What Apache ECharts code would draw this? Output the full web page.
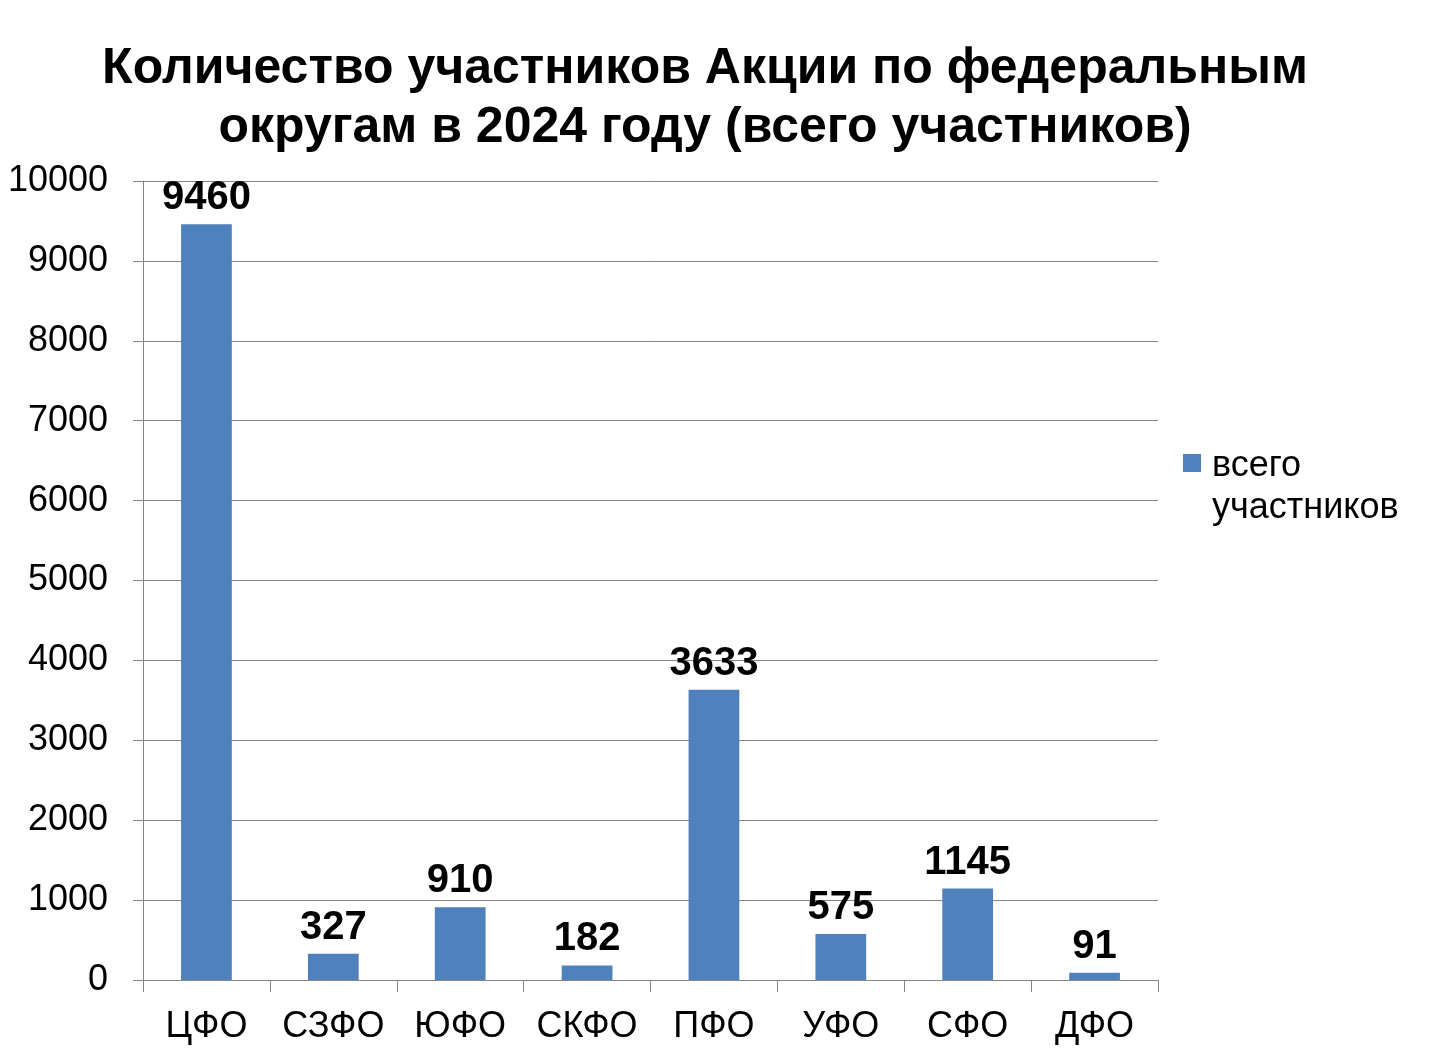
<!DOCTYPE html>
<html>
<head>
<meta charset="utf-8">
<script src="https://cdn.jsdelivr.net/npm/echarts@6/dist/echarts.min.js"></script>
<style>
html,body{margin:0;padding:0;background:#fff;}
#c{width:1430px;height:1051px;}
</style>
</head>
<body>
<div id="c"></div>
<script>
const titleText = 'Количество участников Акции по федеральным\nокругам в 2024 году (всего участников)';
const categories = ['ЦФО', 'СЗФО', 'ЮФО', 'СКФО', 'ПФО', 'УФО', 'СФО', 'ДФО'];
const seriesName = 'всего участников';
const values = [9460, 327, 910, 182, 3633, 575, 1145, 91];
const legendLines = ['всего', 'участников'];

const FONT = '"Liberation Sans", Arial, sans-serif';
const BAR = '#4F81BD';
const GRID = '#868686';

const chart = echarts.init(document.getElementById('c'));
chart.setOption({
  backgroundColor: '#ffffff',
  animation: false,
  title: {
    text: titleText,
    left: 700,
    top: 35,
    textAlign: 'center',
    padding: 5,
    textStyle: {
      fontFamily: FONT,
      fontWeight: 'bold',
      fontSize: 50,
      lineHeight: 59,
      color: '#000'
    }
  },
  grid: { left: 143, right: 272, top: 181, bottom: 71, containLabel: false, outerBoundsMode: 'none' },
  xAxis: {
    type: 'category',
    data: categories,
    axisLine: { show: true, lineStyle: { color: GRID, width: 1 } },
    axisTick: { show: true, length: 12, alignWithLabel: false, lineStyle: { color: GRID } },
    axisLabel: { color: '#000', fontFamily: FONT, fontSize: 36, margin: 29, interval: 0 },
    splitLine: { show: false }
  },
  yAxis: {
    type: 'value',
    min: 0,
    max: 10000,
    interval: 1000,
    axisLine: { show: true, lineStyle: { color: GRID, width: 1 } },
    axisTick: { show: true, length: 10, lineStyle: { color: GRID } },
    axisLabel: { color: '#000', fontFamily: FONT, fontSize: 36, margin: 35, formatter: function (v) { return String(v); } },
    splitLine: { show: true, lineStyle: { color: GRID, width: 1 } }
  },
  series: [{
    name: seriesName,
    type: 'bar',
    data: values,
    barWidth: '40%',
    itemStyle: { color: BAR },
    label: {
      show: true,
      position: 'top',
      distance: 6,
      color: '#000',
      fontFamily: FONT,
      fontWeight: 'bold',
      fontSize: 40
    }
  }],
  graphic: [
    { type: 'rect', left: 1183, top: 454, shape: { width: 18, height: 18 }, style: { fill: BAR } },
    { type: 'text', left: 1212, top: 445, style: { text: legendLines.join('\n'), font: '36px ' + FONT, lineHeight: 42, fill: '#000' } }
  ]
});
</script>
</body>
</html>
